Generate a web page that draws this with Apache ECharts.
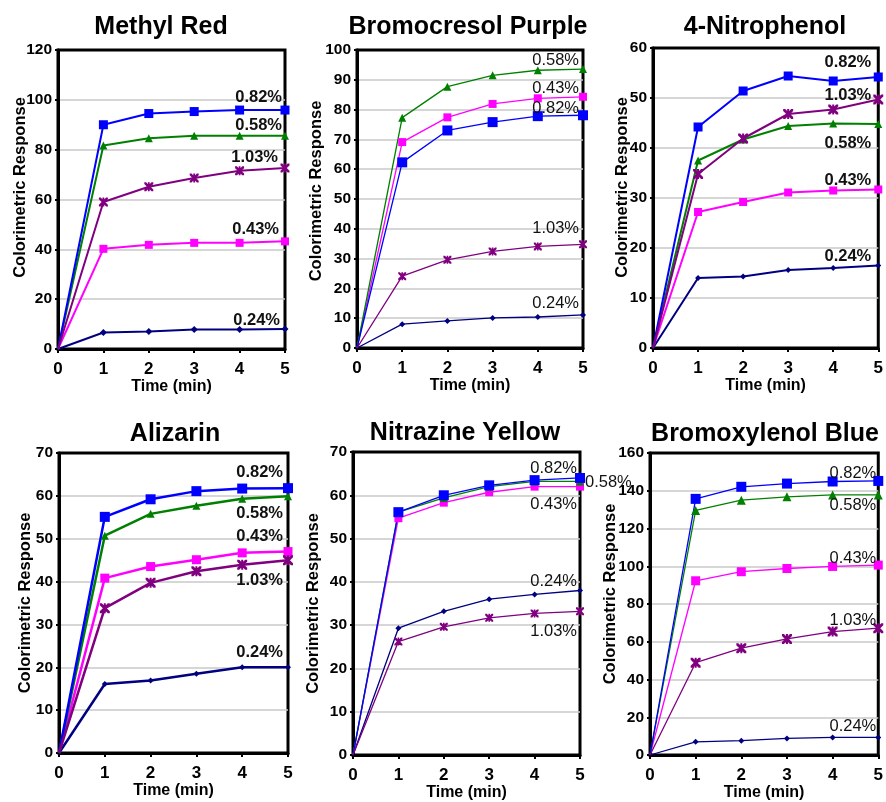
<!DOCTYPE html>
<html>
<head>
<meta charset="utf-8">
<title>Colorimetric Response</title>
<script src="https://cdn.jsdelivr.net/npm/echarts@6/dist/echarts.min.js"></script>
<style>
  html, body { margin: 0; padding: 0; background: #fff; }
  #chart { width: 886px; height: 802px; }
</style>
</head>
<body>
<div id="chart"></div>
<script>
// data, one row per concentration
const times = [0, 1, 2, 3, 4, 5];
const concentrations = ['0.24%', '0.43%', '0.58%', '0.82%', '1.03%'];
const panelTitles = ['Methyl Red', 'Bromocresol Purple', '4-Nitrophenol', 'Alizarin', 'Nitrazine Yellow', 'Bromoxylenol Blue'];
const yMax = [120, 100, 60, 70, 70, 160];
const yStep = [20, 10, 10, 10, 10, 20];

// rows: 0.24%, 0.43%, 0.58%, 0.82%, 1.03%
const methylRed = [
  [0, 6.6, 7.0, 7.8, 7.8, 8.0],
  [0, 40.2, 41.8, 42.6, 42.6, 43.2],
  [0, 81.7, 84.6, 85.6, 85.6, 85.6],
  [0, 90.0, 94.5, 95.3, 95.9, 95.9],
  [0, 59.0, 65.1, 68.6, 71.5, 72.6]
];
const bromocresolPurple = [
  [0, 8.0, 9.1, 10.1, 10.4, 11.1],
  [0, 69.1, 77.4, 81.9, 83.8, 84.3],
  [0, 77.3, 87.7, 91.5, 93.2, 93.6],
  [0, 62.3, 73.0, 75.8, 77.8, 78.1],
  [0, 24.1, 29.6, 32.4, 34.1, 34.8]
];
const nitrophenol = [
  [0, 14.0, 14.3, 15.6, 16.0, 16.5],
  [0, 27.2, 29.2, 31.1, 31.5, 31.7],
  [0, 37.5, 41.7, 44.4, 44.9, 44.8],
  [0, 44.2, 51.4, 54.4, 53.4, 54.2],
  [0, 34.8, 41.9, 46.8, 47.7, 49.7]
];
const alizarin = [
  [0, 16.1, 16.9, 18.5, 20.0, 20.0],
  [0, 40.8, 43.5, 45.1, 46.7, 47.0],
  [0, 50.7, 55.8, 57.7, 59.3, 59.9],
  [0, 55.1, 59.2, 61.1, 61.7, 61.8],
  [0, 33.8, 39.7, 42.4, 43.9, 45.0]
];
const nitrazineYellow = [
  [0, 29.3, 33.2, 36.0, 37.1, 38.0],
  [0, 54.7, 58.3, 60.7, 62.0, 62.0],
  [0, 56.1, 59.4, 62.0, 63.2, 63.2],
  [0, 56.1, 60.0, 62.3, 63.5, 64.0],
  [0, 26.2, 29.6, 31.7, 32.7, 33.2]
];
const bromoxylenolBlue = [
  [0, 7.0, 7.6, 8.8, 9.3, 9.3],
  [0, 92.3, 97.1, 98.8, 99.9, 100.6],
  [0, 129.6, 135.0, 136.8, 137.8, 137.8],
  [0, 135.7, 142.1, 143.8, 144.9, 145.2],
  [0, 48.9, 56.6, 61.5, 65.4, 67.2]
];
const panelData = [methylRed, bromocresolPurple, nitrophenol, alizarin, nitrazineYellow, bromoxylenolBlue];

// look
const FONT = '"Liberation Sans", Arial, sans-serif';
const colors = ['#000080', '#ff00ff', '#008000', '#0000ff', '#800080'];
const starPath = 'path://M0,0L2,0L5,3L8,0L10,0L10,2L7,5L10,8L10,10L8,10L5,7L2,10L0,10L0,8L3,5L0,2Z M4,0L6,0L6,10L4,10Z';
const symbols = ['diamond', 'rect', 'triangle', 'rect', starPath];

// grid rects [left, top, width, height]
const grids = [
  [58, 50, 227, 299], [357, 50, 226, 298], [653, 48, 227, 300],
  [59, 453, 229, 300], [353, 452, 227, 304], [650, 453, 229, 304]
];
const titlePos = [[161, 15], [468, 15], [765, 15], [175, 422], [465, 421], [765, 422]];
const nameGaps = [29, 32, 22, 25, 31, 31];
const nameShift = [24, 16, 21, 0, 0, 20];
const lineWidths = [2, 1.3, 2, 2.5, 1.3, 1.3];
const symbolSizes = [
  [7, 8, 8, 9, 9], [6, 8, 8, 10, 8], [6, 8, 8, 9, 10],
  [6, 9, 8, 10, 10], [6, 8, 8, 10, 8], [6, 9, 9, 10, 10]
];
const labelBold = [true, false, true, true, false, false];
// end-label offsets [dx, dy] relative to the last point, per concentration
const labelOffsets = [
  [[-5, -9], [-6, -12], [-3, -10], [-3, -13], [-7, -11]],
  [[-4, -11], [-4, -8], [-4, -9], [-4, -7], [-4, -16]],
  [[-7, -9], [-7, -9], [-7, 19], [-7, -15], [-7, -4]],
  [[-5, -15], [-5, -15], [-5, 17], [-5, -16], [-5, 20]],
  [[-3, -9], [-3, 18], [5, 1], [-3, -10], [-3, 20]],
  [[-2, -11], [-2, -7], [-2, 11], [-2, -7], [-2, -8]]
];

const option = {
  backgroundColor: '#fff',
  animation: false,
  title: [], grid: [], xAxis: [], yAxis: [], series: []
};

panelData.forEach((rows, p) => {
  const g = grids[p];
  option.title.push({
    text: panelTitles[p], left: titlePos[p][0], top: titlePos[p][1], textAlign: 'center', padding: 0,
    textStyle: { fontFamily: FONT, fontSize: 25, fontWeight: 'bold', color: '#000' }
  });
  option.grid.push({
    left: g[0], top: g[1], width: g[2], height: g[3],
    show: true, borderColor: '#000', borderWidth: 3, backgroundColor: 'transparent'
  });
  option.xAxis.push({
    type: 'value', gridIndex: p, min: 0, max: 5, interval: 1,
    name: 'Time (min)', nameLocation: 'middle', nameGap: 30, nameMoveOverlap: false,
    nameTextStyle: { fontFamily: FONT, fontSize: 16, fontWeight: 'bold', color: '#000' },
    axisLine: { lineStyle: { color: '#000', width: 3 } },
    axisTick: { show: true, length: 4, lineStyle: { color: '#000', width: 2 } },
    axisLabel: { fontFamily: FONT, fontSize: 17, fontWeight: 'bold', color: '#000', margin: 12 },
    splitLine: { show: false }
  });
  option.yAxis.push({
    type: 'value', gridIndex: p, min: 0, max: yMax[p], interval: yStep[p],
    name: 'Colorimetric Response', nameLocation: 'middle', nameGap: nameGaps[p], nameMoveOverlap: false,
    nameTextStyle: { fontFamily: FONT, fontSize: 16.5, fontWeight: 'bold', color: '#000',
      padding: [0, 0, 0, nameShift[p]] },
    axisLine: { lineStyle: { color: '#000', width: 3 } },
    axisTick: { show: true, length: 3, lineStyle: { color: '#000', width: 2 } },
    axisLabel: { fontFamily: FONT, fontSize: 15.5, fontWeight: 'bold', color: '#000', margin: 6 },
    splitLine: { show: true, showMinLine: false, showMaxLine: false, lineStyle: { color: '#c8c8c8', width: 1.5 } }
  });
  rows.forEach((vals, c) => {
    const off = labelOffsets[p][c];
    const data = vals.map((v, i) => {
      const item = { value: [times[i], v] };
      if (i === 0) item.symbol = 'none';
      if (i === vals.length - 1) {
        item.label = {
          show: true, position: 'inside', offset: off,
          align: off[0] > 0 ? 'left' : 'right', verticalAlign: 'middle',
          formatter: concentrations[c],
          fontFamily: FONT, fontSize: 16.5, fontWeight: labelBold[p] ? 'bold' : 'normal', color: '#111'
        };
      }
      return item;
    });
    option.series.push({
      type: 'line', name: concentrations[c], xAxisIndex: p, yAxisIndex: p,
      data: data, clip: false,
      symbol: symbols[c], symbolSize: symbolSizes[p][c], showSymbol: true,
      lineStyle: { color: colors[c], width: lineWidths[p] },
      itemStyle: { color: colors[c] },
      label: { show: false }
    });
  });
});

const chart = echarts.init(document.getElementById('chart'));
chart.setOption(option);
window.addEventListener('resize', () => chart.resize());
</script>
</body>
</html>
